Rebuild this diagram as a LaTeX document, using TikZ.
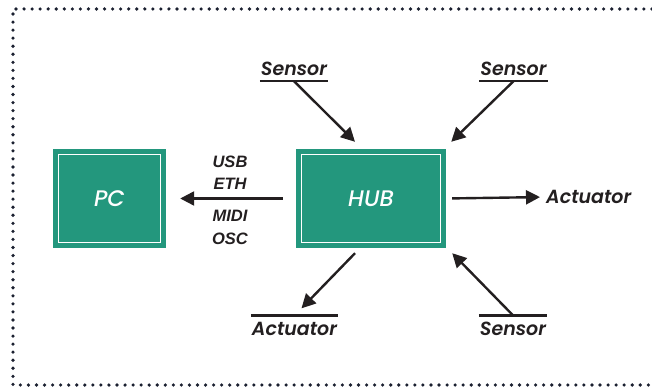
\documentclass[tikz,border=0pt]{standalone}
\usepackage{fontspec}
\setmainfont{Poppins}
\newfontfamily\labfont{Poppins}[UprightFont=* SemiBold, ItalicFont=* SemiBold Italic]
\newfontfamily\boxfont{Poppins}[UprightFont=* Medium, ItalicFont=* Medium Italic]
\newfontfamily\smallfont{Liberation Sans}
\usetikzlibrary{arrows.meta}
\definecolor{teal1}{HTML}{23977D}
\definecolor{ink}{HTML}{231F20}
\definecolor{navy}{HTML}{1B2030}
\tikzset{
  box/.style={fill=teal1, inner sep=0pt, text=white, text depth=0pt,
    font=\boxfont\fontsize{22.5}{26}\selectfont\itshape,
    path picture={\draw[white, line width=1.6pt]
      ([shift={(5.5pt,-5.5pt)}]path picture bounding box.north west) rectangle
      ([shift={(-5.5pt,5.5pt)}]path picture bounding box.south east);}},
  lab/.style={text=ink, font=\labfont\fontsize{19}{22}\selectfont\itshape, inner xsep=1pt, text depth=0pt},
  proto/.style={text=ink, font=\smallfont\fontsize{16.5}{18}\selectfont\bfseries\itshape, inner sep=0pt},
  arr/.style={draw=ink, line width=2.4pt, -{Triangle[length=14pt,width=14pt]}},
  ul/.style={draw=ink, line width=2.6pt},
}
\begin{document}
\begin{tikzpicture}[x=1pt,y=-1pt]
\useasboundingbox (0,0) rectangle (652,387);
\draw[navy, line width=3.6pt, line cap=round, dash pattern=on 0pt off 8.05pt]
  (660,9) -- (13,9) -- (13,385) -- (660,385);
% boxes
\node[box, minimum width=113pt, minimum height=99pt] (pc) at (109.5,198.5) {PC};
\node[box, minimum width=150pt, minimum height=99pt] (hub) at (371,198.5) {HUB};
% protocol labels
\node[proto] (usb) at (230,162) {USB};
\node[proto] (eth) at (230,184) {ETH};
\node[proto] (midi) at (230,216) {MIDI};
\node[proto] (osc) at (230,239) {OSC};
% outer labels
\node[lab, anchor=base, inner ysep=5pt] (s1) at (294,76) {Sensor};
\node[lab, anchor=base, inner ysep=5pt] (s2) at (513.5,76) {Sensor};
\node[lab, anchor=west, inner xsep=0pt] (a1) at (546,197) {Actuator};
\node[lab, anchor=base, inner ysep=6pt] (a2) at (294.5,335) {Actuator};
\node[lab, anchor=base, inner ysep=6pt] (s3) at (513,335) {Sensor};
% underlines
\draw[ul] (s1.south west) -- (s1.south east);
\draw[ul] (s2.south west) -- (s2.south east);
\draw[ul] (a2.north west) -- (a2.north east);
\draw[ul] (s3.north west) -- (s3.north east);
% tips
\coordinate (t1) at ([shift={(-16pt,7pt)}]hub.north);
\coordinate (t2) at ([shift={(5pt,7pt)}]hub.north east);
\coordinate (t3) at ([shift={(-16pt,-5pt)}]hub.south);
\coordinate (t4) at ([shift={(6pt,-5pt)}]hub.south east);
% connectors
\draw[arr, shorten <=13pt, shorten >=14pt] (hub.west) -- (pc.east);
\draw[arr, shorten <=6pt, shorten >=6pt] (hub.east) -- (a1.west);
\draw[arr] (s1.south) -- (t1);
\draw[arr] (s2.south) -- (t2);
\draw[arr, shorten >=10pt] (t3) -- (a2.north);
\draw[arr] (s3.north) -- (t4);
\end{tikzpicture}
\end{document}
